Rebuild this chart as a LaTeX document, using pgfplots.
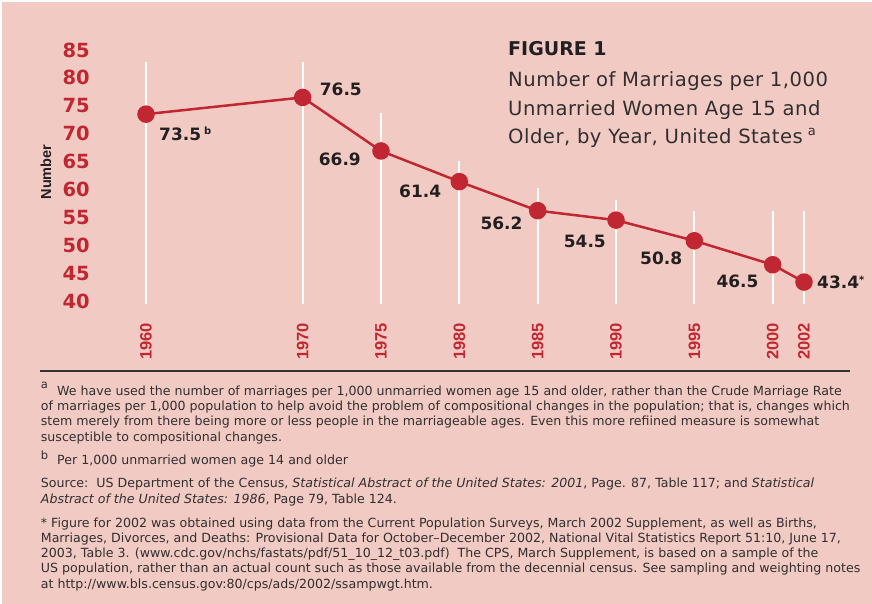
\documentclass[border=0pt]{standalone}
\usepackage{fontspec}
\setmainfont{Liberation Sans}
\newfontfamily\dejavu{DejaVu Sans}
\newfontfamily\titlefont{DejaVu Sans}[LetterSpace=2.5]
\usepackage{pgfplots}
\pgfplotsset{compat=1.18}

\definecolor{bgpink}{RGB}{241,203,195}
\definecolor{mred}{RGB}{193,39,50}
\definecolor{ink}{RGB}{35,31,32}
\definecolor{note}{RGB}{50,46,47}

% small raised marks (footnote letters)
\newcommand\sups[2][6bp]{\raisebox{#1}{\fontsize{10bp}{10bp}\selectfont #2}}
\tikzset{lbl/.style={inner sep=0pt, text=ink,
    font=\dejavu\bfseries\fontsize{17bp}{17bp}\selectfont}}

\begin{document}
\begin{tikzpicture}
\useasboundingbox (0,0) rectangle (872bp,-604bp);
\fill[white] (0,0) rectangle (872bp,-604bp);
\fill[bgpink] (2bp,-2bp) rectangle (872bp,-604bp);

\begin{axis}[
  at={(146bp,-301bp)}, anchor=south west,
  scale only axis, width=658bp, height=251bp,
  xmin=1960, xmax=2002, ymin=40, ymax=85,
  clip=false,
  axis line style={draw=none},
  major tick length=0pt,
  /pgf/number format/assume math mode=true,
  xtick={1960,1970,1975,1980,1985,1990,1995,2000,2002},
  xticklabels={1960,1970,1975,1980,1985,1990,1995,2000,2002},
  ytick={40,45,...,85},
  xticklabel style={yshift=-21.7bp, rotate=90, anchor=east, inner sep=0pt,
    text=mred, font=\bfseries\fontsize{16.5bp}{16.5bp}\selectfont},
  yticklabel style={xshift=-56bp, anchor=east, inner sep=0pt,
    text=mred, font=\dejavu\bfseries\fontsize{19.5bp}{19.5bp}\selectfont},
  ylabel={Number},
  ylabel style={at={(axis description cs:-0.152,0.514)}, anchor=center,
    inner sep=0pt, text=ink, font=\bfseries\fontsize{14.5bp}{14.5bp}\selectfont},
]
% white year stems
\addplot[white, line width=2bp, forget plot] coordinates {(1960,39.46) (1960,82.85)};
\addplot[white, line width=2bp, forget plot] coordinates {(1970,39.46) (1970,82.85)};
\addplot[white, line width=2bp, forget plot] coordinates {(1975,39.46) (1975,73.7)};
\addplot[white, line width=2bp, forget plot] coordinates {(1980,39.46) (1980,65.1)};
\addplot[white, line width=2bp, forget plot] coordinates {(1985,39.46) (1985,60.3)};
\addplot[white, line width=2bp, forget plot] coordinates {(1990,39.46) (1990,58.1)};
\addplot[white, line width=2bp, forget plot] coordinates {(1995,39.46) (1995,56.1)};
\addplot[white, line width=2bp, forget plot] coordinates {(2000,39.46) (2000,56.1)};
\addplot[white, line width=2bp, forget plot] coordinates {(2002,39.46) (2002,56.1)};

% marriage rate
\addplot[mred, line width=2.5bp, mark=*, mark size=7.5bp,
  mark options={fill=mred, draw=mred}] coordinates {
  (1960,73.5) (1970,76.5) (1975,66.9) (1980,61.4) (1985,56.2)
  (1990,54.5) (1995,50.8) (2000,46.5) (2002,43.4)
};

\node[lbl, anchor=west, xshift=13bp, yshift=-20bp] at (axis cs:1960,73.5) {73.5\hspace{3bp}\sups{b}};
\node[lbl, anchor=west, xshift=17bp, yshift=8bp] at (axis cs:1970,76.5) {76.5};
\node[lbl, anchor=east, xshift=-20bp, yshift=-8bp] at (axis cs:1975,66.9) {66.9};
\node[lbl, anchor=east, xshift=-18bp, yshift=-10bp] at (axis cs:1980,61.4) {61.4};
\node[lbl, anchor=east, xshift=-15bp, yshift=-13bp] at (axis cs:1985,56.2) {56.2};
\node[lbl, anchor=east, xshift=-10bp, yshift=-21bp] at (axis cs:1990,54.5) {54.5};
\node[lbl, anchor=east, xshift=-12bp, yshift=-18bp] at (axis cs:1995,50.8) {50.8};
\node[lbl, anchor=east, xshift=-14bp, yshift=-17bp] at (axis cs:2000,46.5) {46.5};
\node[lbl, anchor=west, xshift=13bp, yshift=0bp] at (axis cs:2002,43.4) {43.4\sups[5bp]{*}};
\end{axis}

% title block
\node[anchor=base west, inner sep=0pt, text=ink,
  font=\dejavu\bfseries\fontsize{19bp}{19bp}\selectfont] at (508bp,-55.7bp) {FIGURE 1};
\begin{scope}[every node/.style={anchor=base west, inner sep=0pt, text=note,
  font=\titlefont\fontsize{19.6bp}{19.6bp}\selectfont}]
\node at (508bp,-86bp) {Number of Marriages per 1,000};
\node at (508bp,-115bp) {Unmarried Women Age 15 and};
\node at (508bp,-143.5bp) {Older, by Year, United States\hspace{5bp}\raisebox{8bp}{\fontsize{13bp}{13bp}\selectfont a}};
\end{scope}

\draw[line width=1.5bp, black!80] (40bp,-371bp) -- (850bp,-371bp);

% notes
\begin{scope}[every node/.style={anchor=base west, inner sep=0pt, text=note,
  font=\dejavu\fontsize{12.6bp}{15bp}\selectfont}]
\node at (40.7bp,-388bp) {\fontsize{11.5bp}{11.5bp}\selectfont a};
\node at (57bp,-395bp) {We have used the number of marriages per 1,000 unmarried women age 15 and older, rather than the Crude Marriage Rate};
\node at (40.7bp,-410.3bp) {of marriages per 1,000 population to help avoid the problem of compositional changes in the population; that is, changes which};
\node at (40.7bp,-425.7bp) {stem merely from there being more or less people in the marriageable ages. Even this more refiined measure is somewhat};
\node at (40.7bp,-441bp) {susceptible to compositional changes.};
\node at (40.7bp,-459.3bp) {\fontsize{11.5bp}{11.5bp}\selectfont b};
\node at (57bp,-464.7bp) {Per 1,000 unmarried women age 14 and older};
\node at (40.7bp,-487.3bp) {Source:\ \ US Department of the Census, \textit{Statistical Abstract of the United States: 2001}, Page. 87, Table 117; and \textit{Statistical}};
\node at (40.7bp,-503bp) {\textit{Abstract of the United States: 1986}, Page 79, Table 124.};
\node at (40.7bp,-527.3bp) {* Figure for 2002 was obtained using data from the Current Population Surveys, March 2002 Supplement, as well as Births,};
\node at (40.7bp,-542.3bp) {Marriages, Divorces, and Deaths: Provisional Data for October–December 2002, National Vital Statistics Report 51:10, June 17,};
\node at (40.7bp,-557.7bp) {2003, Table 3. (www.cdc.gov/nchs/fastats/pdf/51\_10\_12\_t03.pdf)\ \ The CPS, March Supplement, is based on a sample of the};
\node at (40.7bp,-572.7bp) {US population, rather than an actual count such as those available from the decennial census. See sampling and weighting notes};
\node at (40.7bp,-588.3bp) {at http://www.bls.census.gov:80/cps/ads/2002/ssampwgt.htm.};
\end{scope}
\end{tikzpicture}
\end{document}
